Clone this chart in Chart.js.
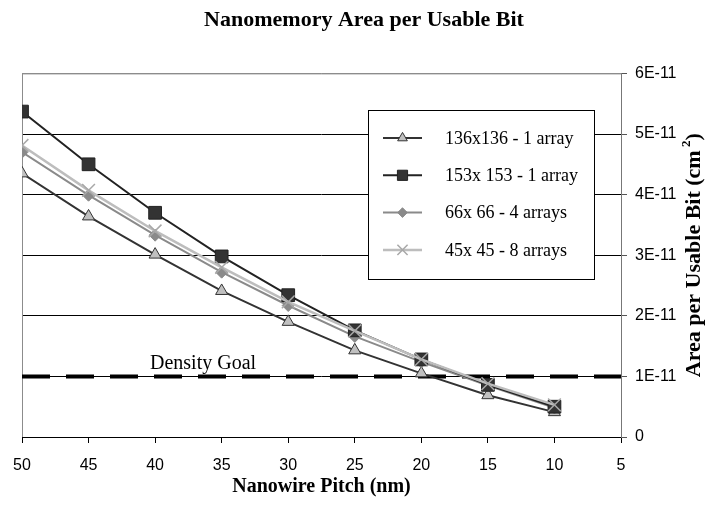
<!DOCTYPE html>
<html>
<head>
<meta charset="utf-8">
<script src="https://cdn.jsdelivr.net/npm/chart.js@4/dist/chart.umd.min.js"></script>
<style>
  html, body { margin: 0; padding: 0; background: #fff; }
  canvas { display: block; }
</style>
</head>
<body>
<canvas id="myChart" width="706" height="510"></canvas>
<script>
// nanowire pitch (nm) and area per usable bit (cm^2) for each memory layout
const pitch = [50, 45, 40, 35, 30, 25, 20, 15, 10]
const area136 = [4.35e-11, 3.64e-11, 3.01e-11, 2.41e-11, 1.90e-11, 1.43e-11, 1.05e-11, 0.69e-11, 0.41e-11]
const area153 = [5.37e-11, 4.50e-11, 3.70e-11, 2.98e-11, 2.34e-11, 1.76e-11, 1.28e-11, 0.86e-11, 0.50e-11]
const area66 = [4.70e-11, 3.99e-11, 3.33e-11, 2.72e-11, 2.17e-11, 1.66e-11, 1.24e-11, 0.85e-11, 0.48e-11]
const area45 = [4.81e-11, 4.07e-11, 3.40e-11, 2.80e-11, 2.23e-11, 1.75e-11, 1.28e-11, 0.88e-11, 0.53e-11]
const densityGoal = 1e-11
const seriesNames = ["136x136 - 1 array", "153x 153 - 1 array", "66x 66 - 4 arrays", "45x 45 - 8 arrays"]

const serif = "'Liberation Serif', 'Times New Roman', serif"
const sans = "'Liberation Sans', Arial, sans-serif"

function points(values) {
	return values.map((v, i) => ({ x: pitch[i], y: v }))
}

// marker looks, shared by the lines and the legend
const styles = [
	{ line: "#333333", lineWidth: 2, point: "triangle", radius: 7, fill: "#c0c0c0", edge: "#333333" },
	{ line: "#222222", lineWidth: 2, point: "rect", radius: 9, fill: "#333333", edge: "#222222" },
	{ line: "#8a8a8a", lineWidth: 2, point: "rectRot", radius: 6, fill: "#8a8a8a", edge: "#8a8a8a" },
	{ line: "#bdbdbd", lineWidth: 2.5, point: "crossRot", radius: 9, fill: "#b0b0b0", edge: "#a8a8a8" }
]
const drawOrder = [4, 2, 3, 1]
const values = [area136, area153, area66, area45]

const datasets = values.map((vals, i) => ({
	label: seriesNames[i],
	data: points(vals),
	borderColor: styles[i].line,
	borderWidth: styles[i].lineWidth,
	pointStyle: styles[i].point,
	pointRadius: styles[i].radius,
	pointBackgroundColor: styles[i].fill,
	pointBorderColor: styles[i].edge,
	pointBorderWidth: i === 3 ? 1.5 : 1,
	order: drawOrder[i],
	tension: 0
}))

datasets.push({
	label: "Density Goal",
	data: [{ x: 50, y: densityGoal }, { x: 5, y: densityGoal }],
	borderColor: "#000",
	borderWidth: 4,
	borderDash: [28, 16],
	pointRadius: 0,
	order: 5
})

function drawMarker(ctx, s, x, y) {
	ctx.save()
	ctx.fillStyle = s.fill
	ctx.strokeStyle = s.edge
	ctx.lineWidth = 1
	ctx.beginPath()
	if (s.point === "triangle") {
		const r = s.radius
		ctx.moveTo(x, y - r)
		ctx.lineTo(x + r * 0.866, y + r * 0.5)
		ctx.lineTo(x - r * 0.866, y + r * 0.5)
		ctx.closePath()
		ctx.fill(); ctx.stroke()
	} else if (s.point === "rect") {
		const h = s.radius * Math.SQRT1_2
		ctx.rect(x - h, y - h, 2 * h, 2 * h)
		ctx.fill(); ctx.stroke()
	} else if (s.point === "rectRot") {
		const r = s.radius
		ctx.moveTo(x, y - r); ctx.lineTo(x + r, y); ctx.lineTo(x, y + r); ctx.lineTo(x - r, y)
		ctx.closePath()
		ctx.fill(); ctx.stroke()
	} else {
		const h = s.radius * Math.SQRT1_2
		ctx.lineWidth = 1.5
		ctx.moveTo(x - h, y - h); ctx.lineTo(x + h, y + h)
		ctx.moveTo(x + h, y - h); ctx.lineTo(x - h, y + h)
		ctx.stroke()
	}
	ctx.restore()
}

const decorations = {
	id: "decorations",
	beforeDatasetsDraw(chart) {
		const { ctx, chartArea: a } = chart
		// gray frame on the left and top of the plot
		ctx.save()
		ctx.strokeStyle = "#8c8c8c"
		ctx.lineWidth = 1
		ctx.beginPath()
		ctx.moveTo(a.left + 0.5, a.bottom)
		ctx.lineTo(a.left + 0.5, a.top + 0.5)
		ctx.lineTo(a.right, a.top + 0.5)
		ctx.stroke()
		ctx.restore()
	},
	afterDraw(chart) {
		const { ctx } = chart
		const x = chart.scales.x
		const y = chart.scales.y

		// label over the goal line
		ctx.save()
		ctx.fillStyle = "#000"
		ctx.font = "20px " + serif
		ctx.textAlign = "center"
		ctx.textBaseline = "alphabetic"
		ctx.fillText("Density Goal", x.getPixelForValue(36.4), y.getPixelForValue(densityGoal) - 7)
		ctx.restore()

		// legend box
		const lx = 368, ly = 110, lw = 226, lh = 169
		ctx.save()
		ctx.fillStyle = "#fff"
		ctx.fillRect(lx, ly, lw, lh)
		ctx.strokeStyle = "#000"
		ctx.lineWidth = 1
		ctx.strokeRect(lx + 0.5, ly + 0.5, lw, lh)
		ctx.font = "18px " + serif
		ctx.textBaseline = "middle"
		ctx.textAlign = "left"
		seriesNames.forEach((name, i) => {
			const cy = ly + 28 + i * 37.3
			const s = styles[i]
			ctx.strokeStyle = s.line
			ctx.lineWidth = s.lineWidth
			ctx.beginPath()
			ctx.moveTo(383, cy)
			ctx.lineTo(422, cy)
			ctx.stroke()
			drawMarker(ctx, { ...s, radius: s.radius * 0.8 }, 402.5, cy)
			ctx.fillStyle = "#000"
			ctx.fillText(name, 445, cy + 1)
		})
		ctx.restore()

		// right-hand axis title, reading upward, with superscript
		const main = "Area per Usable Bit (cm"
		const big = "bold 22px " + serif
		const small = "bold 13px " + serif
		ctx.save()
		ctx.translate(694, (y.top + y.bottom) / 2)
		ctx.rotate(-Math.PI / 2)
		ctx.fillStyle = "#000"
		ctx.textBaseline = "middle"
		ctx.textAlign = "left"
		ctx.font = big
		const w1 = ctx.measureText(main).width
		const w3 = ctx.measureText(")").width
		ctx.font = small
		const w2 = ctx.measureText(" 2").width
		const start = -(w1 + w2 + w3) / 2
		ctx.font = big
		ctx.fillText(main, start, 0)
		ctx.font = small
		ctx.fillText(" 2", start + w1, -7)
		ctx.font = big
		ctx.fillText(")", start + w1 + w2, 0)
		ctx.restore()
	}
}

new Chart("myChart", {
	type: "line",
	data: { datasets: datasets },
	plugins: [decorations],
	options: {
		responsive: false,
		animation: false,
		devicePixelRatio: 1,
		layout: { padding: { left: 22, right: 0, top: 0, bottom: 0 } },
		plugins: {
			legend: { display: false },
			tooltip: { enabled: false },
			title: {
				display: true,
				text: "Nanomemory Area per Usable Bit",
				color: "#000",
				font: { family: serif, size: 22, weight: "bold" },
				padding: { top: 7, bottom: 40 }
			}
		},
		scales: {
			x: {
				type: "linear",
				reverse: true,
				min: 5,
				max: 50,
				afterFit: (scale) => { scale.height = 73 },
				ticks: {
					stepSize: 5,
					maxRotation: 0,
					autoSkip: false,
					padding: 13,
					color: "#000",
					font: { family: sans, size: 16 }
				},
				grid: { drawOnChartArea: false, tickLength: 6, tickColor: "#000" },
				border: { color: "#000", width: 1 },
				title: {
					display: true,
					text: "Nanowire Pitch (nm)",
					color: "#000",
					font: { family: serif, size: 20, weight: "bold" },
					padding: { top: 0, bottom: 11 }
				}
			},
			y: {
				position: "right",
				min: 0,
				max: 6e-11,
				afterFit: (scale) => { scale.width = 85 },
				ticks: {
					stepSize: 1e-11,
					padding: 8,
					color: "#000",
					font: { family: sans, size: 16 },
					callback: (v) => {
						const n = Math.round(v * 1e11)
						return n === 0 ? "0" : n + "E-11"
					}
				},
				grid: {
					color: (c) => (Math.round(c.tick.value * 1e11) === 6 ? "#8c8c8c" : "#000"),
					tickLength: 6,
					tickColor: "#555"
				},
				border: { color: "#777", width: 1 }
			}
		}
	}
})
</script>
</body>
</html>
